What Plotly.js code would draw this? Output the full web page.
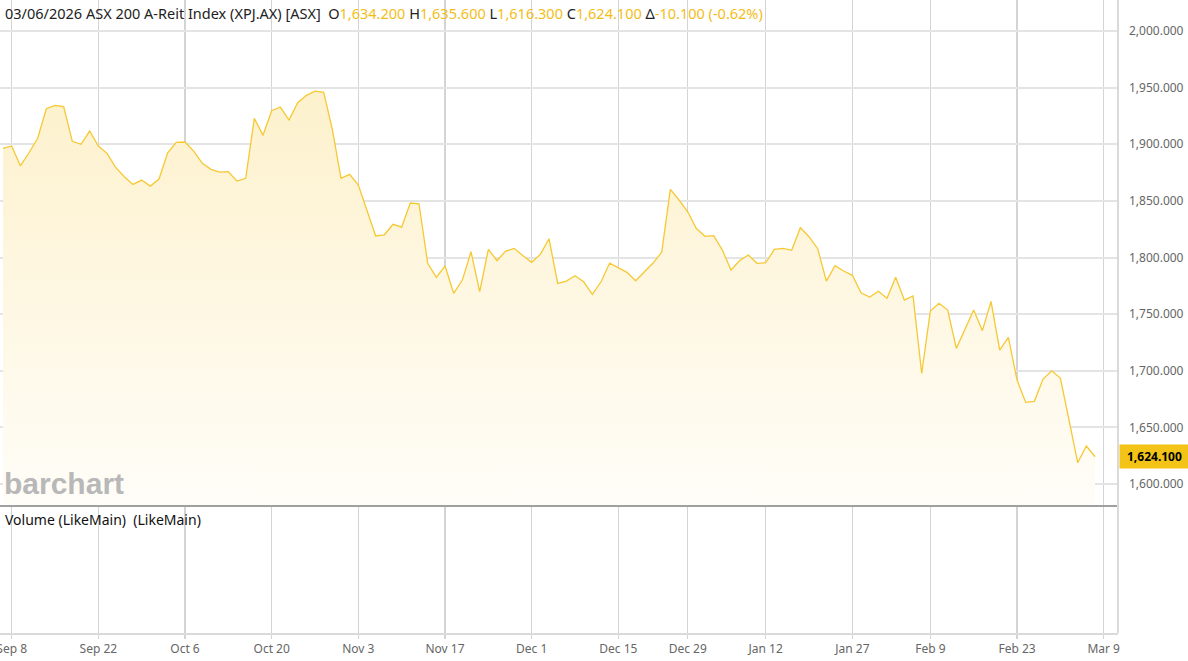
<!DOCTYPE html>
<html>
<head>
<meta charset="utf-8">
<script src="https://cdn.plot.ly/plotly-3.0.1.min.js"></script>
<style>
html,body{margin:0;padding:0;background:#fff;}
#chart{width:1188px;height:661px;}
</style>
</head>
<body>
<div id="chart"></div>
<script>
// Daily closes, ASX 200 A-Reit Index (XPJ.AX), 2025-09-05 .. 2026-03-06 (trading days)
const closes = [
  1896.4, 1898.5, 1881.0, 1892.5, 1905.3, 1931.4, 1934.4, 1933.2, 1902.6, 1900.0,
  1911.7, 1898.5, 1892.0, 1879.6, 1871.3, 1864.6, 1868.4, 1863.1, 1869.3, 1892.5,
  1901.7, 1902.0, 1894.0, 1883.2, 1877.9, 1875.5, 1875.8, 1867.5, 1869.9, 1922.9,
  1907.9, 1929.6, 1932.9, 1921.4, 1936.7, 1943.2, 1947.0, 1945.9, 1913.2, 1869.9,
  1873.5, 1864.0, 1841.5, 1819.0, 1820.1, 1829.3, 1826.9, 1848.1, 1847.5, 1794.9,
  1782.5, 1792.5, 1768.4, 1780.1, 1805.1, 1769.8, 1807.2, 1797.2, 1805.7, 1808.1,
  1801.6, 1795.8, 1802.8, 1816.6, 1777.2, 1779.2, 1783.9, 1778.6, 1767.5, 1778.6,
  1795.1, 1791.0, 1786.9, 1779.5, 1787.2, 1795.1, 1804.6, 1860.2, 1850.8, 1840.4,
  1825.6, 1818.7, 1819.4, 1806.6, 1789.0, 1797.4, 1802.2, 1794.9, 1795.4, 1807.2,
  1808.1, 1806.4, 1826.3, 1818.4, 1807.8, 1779.2, 1792.8, 1788.1, 1784.3, 1768.9,
  1765.1, 1770.2, 1764.1, 1782.6, 1762.5, 1766.0, 1697.7, 1752.8, 1759.6, 1753.6,
  1719.8, 1736.6, 1753.6, 1735.4, 1761.3, 1718.3, 1729.5, 1691.8, 1672.1, 1673.0,
  1692.7, 1700.0, 1693.6, 1656.5, 1618.8, 1633.6, 1624.1
];
const firstDate = '2025-09-05';
const holidays = ['2025-12-25', '2025-12-26', '2026-01-01', '2026-01-26'];
const extraDates = ['2026-03-09'];
const tickDates = ['2025-09-08','2025-09-22','2025-10-06','2025-10-20','2025-11-03','2025-11-17',
  '2025-12-01','2025-12-15','2025-12-29','2026-01-12','2026-01-27','2026-02-09','2026-02-23','2026-03-09'];
const tickLabels = ['Sep 8','Sep 22','Oct 6','Oct 20','Nov 3','Nov 17','Dec 1','Dec 15','Dec 29',
  'Jan 12','Jan 27','Feb 9','Feb 23','Mar 9'];
const yTicks = [1600, 1650, 1700, 1750, 1800, 1850, 1900, 1950, 2000];
const header = {date: '03/06/2026', name: 'ASX 200 A-Reit Index (XPJ.AX) [ASX]',
  open: '1,634.200', high: '1,635.600', low: '1,616.300', close: '1,624.100', change: '-10.100 (-0.62%)'};
const lastClose = closes[closes.length - 1];

// trading-day calendar
function tradingDays(start, n, skip) {
  const out = [];
  const d = new Date(start + 'T00:00:00Z');
  while (out.length < n) {
    const s = d.toISOString().slice(0, 10);
    const wd = d.getUTCDay();
    if (wd !== 0 && wd !== 6 && skip.indexOf(s) < 0) out.push(s);
    d.setUTCDate(d.getUTCDate() + 1);
  }
  return out;
}
const dates = tradingDays(firstDate, closes.length, holidays);
const allCats = dates.concat(extraDates);

const GOLDTXT = '#f3bd18';
const FONT = 'Noto Sans, Open Sans, sans-serif';

const traces = [
  {
    x: dates, y: closes, type: 'scatter', mode: 'lines',
    line: {color: '#f6c832', width: 1.3},
    fill: 'tozeroy',
    fillgradient: {type: 'vertical', start: 1580, stop: 1950,
      colorscale: [[0, '#fffdf8'], [1, '#fdf1cc']]},
    xaxis: 'x', yaxis: 'y', hoverinfo: 'skip', showlegend: false
  },
  {x: [], y: [], type: 'scatter', mode: 'lines', xaxis: 'x', yaxis: 'y2', showlegend: false, hoverinfo: 'skip'}
];

const split = 127 / 633;
const layout = {
  width: 1188, height: 661,
  margin: {l: 0, r: 70, t: 0, b: 28},
  paper_bgcolor: '#ffffff', plot_bgcolor: '#ffffff',
  showlegend: false,
  font: {family: FONT, size: 12, color: '#555'},
  xaxis: {
    type: 'category', categoryorder: 'array', categoryarray: allCats,
    range: [-0.346, 128.65],
    tickmode: 'array', tickvals: tickDates, ticktext: tickLabels,
    showgrid: true, gridcolor: '#d4d4d4', gridwidth: 1.5,
    showline: true, linecolor: '#dadada', linewidth: 2,
    ticks: 'outside', ticklen: 4, tickcolor: '#d4d4d4', tickwidth: 1.5,
    tickfont: {family: FONT, size: 12, color: '#666'},
    anchor: 'y2', zeroline: false, fixedrange: true
  },
  yaxis: {
    domain: [split, 1], anchor: 'x', side: 'right',
    range: [1580.6, 2027.4],
    tickmode: 'array', tickvals: yTicks,
    tickformat: ',.3f',
    showgrid: true, gridcolor: '#e4e4e4', gridwidth: 2,
    zeroline: false, showline: false,
    ticks: '', ticklabelstandoff: 10,
    tickfont: {family: FONT, size: 12, color: '#666'}
  },
  yaxis2: {
    domain: [0, split], anchor: 'x', side: 'right',
    range: [0, 1], showgrid: false, showticklabels: false, zeroline: false, ticks: ''
  },
  shapes: [
    {type: 'line', xref: 'paper', yref: 'paper', x0: 0, x1: 1, y0: split, y1: split,
      line: {color: '#a0a0a0', width: 2}},
    {type: 'line', xref: 'paper', yref: 'paper', x0: 1, x1: 1, y0: 0, y1: 1,
      line: {color: '#dadada', width: 2}}
  ],
  annotations: [
    {xref: 'paper', yref: 'paper', x: 0, y: 1, xanchor: 'left', yanchor: 'top', xshift: 3, yshift: -1,
      showarrow: false, align: 'left',
      font: {family: FONT, size: 14.5, color: '#222'},
      text: header.date + ' ' + header.name + '  O<span style="color:' + GOLDTXT + '">' + header.open +
        '</span> H<span style="color:' + GOLDTXT + '">' + header.high +
        '</span> L<span style="color:' + GOLDTXT + '">' + header.low +
        '</span> C<span style="color:' + GOLDTXT + '">' + header.close +
        '</span> Δ<span style="color:' + GOLDTXT + '">' + header.change + '</span>'},
    {xref: 'paper', yref: 'paper', x: 0, y: split, xanchor: 'left', yanchor: 'bottom', xshift: 2, yshift: 4,
      showarrow: false, text: '<b>barchart</b>',
      font: {family: 'Liberation Sans, Arial, sans-serif', size: 30, color: '#b8b8b8'}},
    {xref: 'paper', yref: 'paper', x: 0, y: split, xanchor: 'left', yanchor: 'top', xshift: 3, yshift: -2,
      showarrow: false, text: 'Volume (LikeMain)  (LikeMain)',
      font: {family: FONT, size: 14, color: '#111'}},
    {xref: 'paper', yref: 'y', x: 1, y: lastClose, xanchor: 'left', yanchor: 'middle', xshift: 1,
      showarrow: false, text: '<b>' + lastClose.toLocaleString('en-US', {minimumFractionDigits: 3}) + '</b>',
      bgcolor: '#f3c417', borderpad: 3, width: 63,
      font: {family: FONT, size: 12, color: '#000'}}
  ]
};

Plotly.newPlot('chart', traces, layout, {displayModeBar: false, staticPlot: true});
</script>
</body>
</html>
